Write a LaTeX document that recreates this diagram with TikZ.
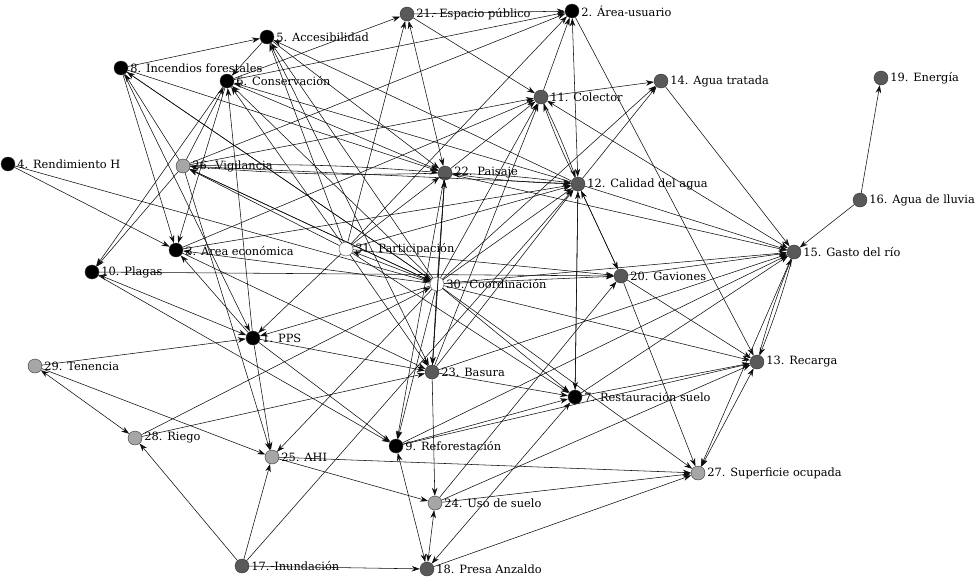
\documentclass[tikz,border=0pt]{standalone}
\usepackage{fontspec}
\setmainfont{DejaVu Serif}
\usetikzlibrary{arrows.meta}
\begin{document}
\begin{tikzpicture}[x=1pt,y=-1pt,
  nd/.style={circle,draw=black!80,line width=0.4pt,minimum size=14pt,inner sep=0pt},
  cb/.style={nd,fill=black},
  cd/.style={nd,fill=black!65},
  cl/.style={nd,fill=black!35},
  cw/.style={nd,fill=white,draw=black!70},
  lb/.style={font=\fontsize{11.4}{13}\selectfont,inner sep=0pt,anchor=west},
  every label/.style={lb},
  label distance=2pt,
  e/.style={-{Stealth[length=8pt,width=5.5pt]},line width=0.55pt,draw=black!95},
  b/.style={{Stealth[length=8pt,width=5.5pt]}-{Stealth[length=8pt,width=5.5pt]},line width=0.55pt,draw=black!95}]
\useasboundingbox (0,0) rectangle (980,584);
\node[cb,label=0:{1. PPS}] (n1) at (253,338) {};
\node[cb,label=0:{2. Área-usuario}] (n2) at (572,11) {};
\node[cb,label=0:{3. Área económica}] (n3) at (176,250) {};
\node[cb,label=0:{4. Rendimiento H}] (n4) at (8,164) {};
\node[cb,label=0:{5. Accesibilidad}] (n5) at (267,37) {};
\node[cb,label=0:{6. Conservación}] (n6) at (227,81) {};
\node[cb,label=0:{7. Restauración suelo}] (n7) at (575,397) {};
\node[cb,label=0:{8. Incendios forestales}] (n8) at (121,68) {};
\node[cb,label=0:{9. Reforestación}] (n9) at (396,446) {};
\node[cb,label=0:{10. Plagas}] (n10) at (92,272) {};
\node[cd,label=0:{11. Colector}] (n11) at (541,97) {};
\node[cd,label=0:{12. Calidad del agua}] (n12) at (578,184) {};
\node[cd,label=0:{13. Recarga}] (n13) at (757,362) {};
\node[cd,label=0:{14. Agua tratada}] (n14) at (661,81) {};
\node[cd,label=0:{15. Gasto del río}] (n15) at (794,252) {};
\node[cd,label=0:{16. Agua de lluvia}] (n16) at (860,200) {};
\node[cd,label=0:{17. Inundación}] (n17) at (242,566) {};
\node[cd,label=0:{18. Presa Anzaldo}] (n18) at (427,569) {};
\node[cd,label=0:{19. Energía}] (n19) at (881,78) {};
\node[cd,label=0:{20. Gaviones}] (n20) at (621,276) {};
\node[cd,label=0:{21. Espacio público}] (n21) at (407,14) {};
\node[cd,label=0:{22. Paisaje}] (n22) at (445,173) {};
\node[cd,label=0:{23. Basura}] (n23) at (432,372) {};
\node[cl,label=0:{24. Uso de suelo}] (n24) at (435,503) {};
\node[cl,label=0:{25. AHI}] (n25) at (272,457) {};
\node[cl,label=0:{26. Vigilancia}] (n26) at (183,166) {};
\node[cl,label=0:{27. Superficie ocupada}] (n27) at (698,473) {};
\node[cl,label=0:{28. Riego}] (n28) at (135,438) {};
\node[cl,label=0:{29. Tenencia}] (n29) at (35,366) {};
\node[cw,label=0:{30. Coordinación}] (n30) at (437,284) {};
\node[cw,label=0:{31. Participación}] (n31) at (346,249) {};
% directed edges
\foreach \s/\t in {21/2,6/2,11/2,31/2,26/2,2/13,21/11,11/14,12/14,30/14,22/11,30/11,23/11,26/11,3/11,
  14/15,16/19,16/15,4/3,4/30,6/10,26/10,10/9,10/20,29/25,29/1,17/28,17/25,17/18,17/12,28/30,28/23,
  1/25,26/25,30/25,25/27,25/24,1/9,9/7,9/13,9/15,30/9,22/9,18/27,23/24,24/20,24/13,24/27,20/27,30/27,
  15/27,23/7,30/7,31/7,12/7,7/13,7/15,20/13,30/13,12/15,22/15,30/15,20/15,23/15,30/20,31/20,12/20,
  20/12,31/12,30/12,26/12,3/12,23/12,7/12,8/22,6/22,5/22,31/22,30/22,23/22,31/21,6/21,26/8,30/26,
  31/26,8/5,5/6,6/3,1/6,26/6,31/6,30/6,12/6,30/5,31/5,12/5,8/30,8/1,8/3,30/8,30/3,1/3,31/1,30/1,
  1/23,3/23,30/23,31/23,22/23,30/31,26/30,5/23}
  \draw[e] (n\s) -- (n\t);
% bidirectional
\foreach \s/\t in {12/2,15/11,10/1,28/29,9/18,24/18,7/18,13/27,21/22}
  \draw[b] (n\s) -- (n\t);
% double connections
\foreach \s/\t in {11/12,13/15,22/12,26/22}{
  \draw[e] (n\s) to[bend left=3] (n\t);
  \draw[e] (n\t) to[bend left=3] (n\s);}
\end{tikzpicture}
\end{document}
